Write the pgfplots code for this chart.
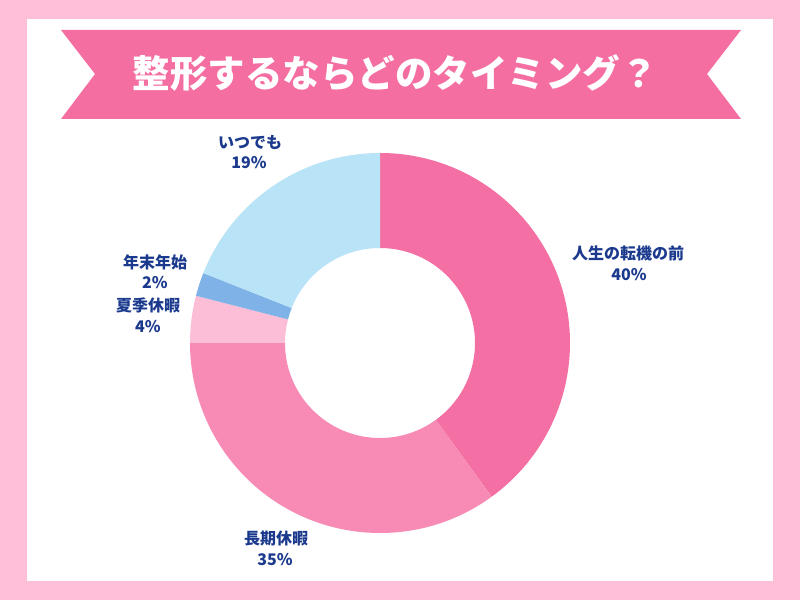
\documentclass[border=0pt]{standalone}
\usepackage{pgfplots}
\usepackage{pgfplotstable}
\pgfplotsset{compat=1.18}
\usepackage{fontspec}
\setmainfont{Noto Sans CJK JP}
\definecolor{bgpink}{HTML}{FFBFD8}
\definecolor{banner}{HTML}{F46EA2}
\definecolor{lab}{HTML}{1B3A8E}
\definecolor{c0}{HTML}{F46FA3}
\definecolor{c1}{HTML}{F78BB5}
\definecolor{c2}{HTML}{FCBDD7}
\definecolor{c3}{HTML}{7FB3E8}
\definecolor{c4}{HTML}{B9E3F7}
\pgfplotstableread[col sep=comma]{
value,name
40,人生の転機の前
35,長期休暇
4,夏季休暇
2,年末年始
19,いつでも
}\piedata
\begin{document}
\begin{tikzpicture}
\begin{axis}[x=1pt,y=1pt,xmin=0,xmax=800,ymin=0,ymax=600,hide axis,
  scale only axis,clip=false,disabledatascaling]
\fill[bgpink] (axis cs:0,0) rectangle (axis cs:800,600);
\fill[white] (axis cs:27,19) rectangle (axis cs:773,581);
\fill[banner] (axis cs:61,570) -- (axis cs:741,570) -- (axis cs:707,526) -- (axis cs:741,481)
  -- (axis cs:61,481) -- (axis cs:95,526) -- cycle;
\node[text=white,font=\bfseries\fontsize{37.5}{42}\selectfont] at (axis cs:395,527) {整形するならどのタイミング？};
\gdef\cum{0}
\pgfplotsinvokeforeach{0,...,4}{%
  \pgfplotstablegetelem{#1}{value}\of\piedata
  \pgfmathsetmacro\sa{90-3.6*\cum}%
  \pgfmathsetmacro\newcum{\cum+\pgfplotsretval}%
  \xdef\cum{\newcum}%
  \pgfmathsetmacro\ea{90-3.6*\cum}%
  \pgfmathsetmacro\xa{380+190*cos(\sa)}%
  \pgfmathsetmacro\ya{257+190*sin(\sa)}%
  \pgfmathsetmacro\xb{380+95*cos(\ea)}%
  \pgfmathsetmacro\yb{257+95*sin(\ea)}%
  \edef\temp{\noexpand\fill[c#1] (axis cs:\xa,\ya) arc[start angle=\sa,end angle=\ea,radius=190] -- (axis cs:\xb,\yb) arc[start angle=\ea,end angle=\sa,radius=95] -- cycle;}%
  \temp
}
\tikzset{lbl/.style={text=lab,font=\bfseries\fontsize{16}{19}\selectfont,inner sep=0pt}}
\node[lbl] at (axis cs:628,347) {人生の転機の前};
\node[lbl] at (axis cs:629,325) {40\%};
\node[lbl] at (axis cs:276,62) {長期休暇};
\node[lbl] at (axis cs:275,40) {35\%};
\node[lbl] at (axis cs:148,295) {夏季休暇};
\node[lbl] at (axis cs:148,273) {4\%};
\node[lbl] at (axis cs:155,338) {年末年始};
\node[lbl] at (axis cs:155,317) {2\%};
\node[lbl] at (axis cs:250,457) {いつでも};
\node[lbl] at (axis cs:249,437) {19\%};
\end{axis}
\end{tikzpicture}
\end{document}
